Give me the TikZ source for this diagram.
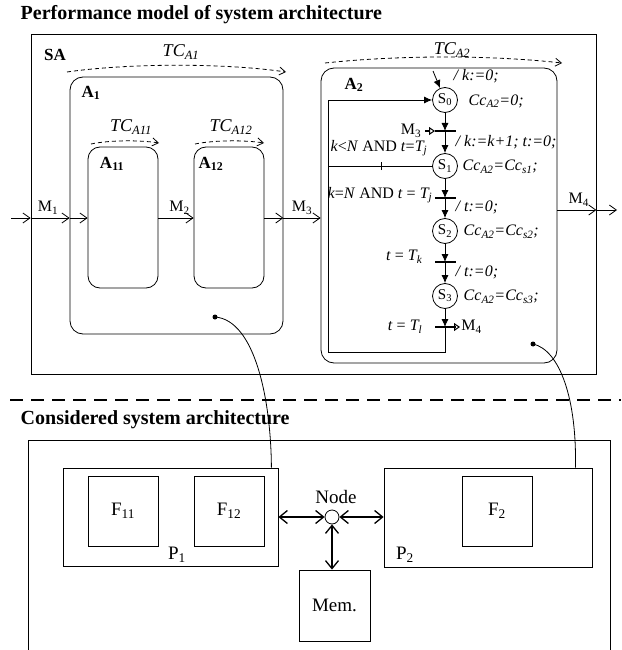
\documentclass[tikz,border=0pt]{standalone}
\usepackage{fontspec}
\setmainfont{Liberation Serif}
\usetikzlibrary{arrows.meta}

\tikzset{
  box/.style={draw, inner sep=0pt},
  blk/.style={draw, rounded corners=13pt, inner sep=0pt},
  st/.style={draw, circle, minimum size=25pt, inner sep=0pt, font=\fontsize{15}{16}\selectfont},
  msg/.style={-{Straight Barb[length=7pt,width=10pt]}},
  tc/.style={dashed, dash pattern=on 4pt off 3pt, -{Straight Barb[length=6pt,width=8pt]}},
  tr/.style={-{Latex[length=8pt,width=7pt]}},
  bar/.style={line width=1.5pt},
  io/.style={line width=1pt, -{Triangle[open,length=6pt,width=8pt]}},
  bus/.style={line width=1.3pt, {Straight Barb[length=8pt,width=13pt]}-{Straight Barb[length=8pt,width=13pt]}},
  ttl/.style={anchor=west, font=\bfseries\fontsize{20}{22}\selectfont},
}

\begin{document}
\begin{tikzpicture}[x=1pt,y=-1pt,line width=0.8pt,
  every node/.style={font=\fontsize{16}{18}\selectfont}]
\useasboundingbox (0,0) rectangle (621,650);

\node[ttl] (ttl1) at (17,15) {Performance model of system architecture};
\node[ttl] (ttl2) at (17,420) {Considered system architecture};

\node[box, minimum width=565pt, minimum height=340pt] (sa) at (313.5,204) {};
\node[blk, minimum width=213pt, minimum height=257pt] (a1) at (176.5,205.5) {};
\node[blk, rounded corners=12pt, minimum width=70pt, minimum height=141pt] (a11) at (123,217.5) {};
\node[blk, rounded corners=12pt, minimum width=70pt, minimum height=141pt] (a12) at (229,217.5) {};
\node[blk, minimum width=236pt, minimum height=295pt] (a2) at (439,215.5) {};

\node[font=\bfseries\fontsize{17}{18}\selectfont] (lsa) at (55,55) {SA};
\node[font=\bfseries\fontsize{17}{18}\selectfont] (la1) at (91,93) {A\textsubscript{1}};
\node[font=\bfseries\fontsize{17}{18}\selectfont] (la11) at (112,164) {A\textsubscript{11}};
\node[font=\bfseries\fontsize{17}{18}\selectfont] (la12) at (211,164) {A\textsubscript{12}};
\node[font=\bfseries\fontsize{17}{18}\selectfont] (la2) at (354,85) {A\textsubscript{2}};

\node[font=\itshape\fontsize{18}{18}\selectfont] (ltc1) at (181,52) {TC\textsubscript{A1}};
\node[font=\itshape\fontsize{18}{18}\selectfont] (ltc11) at (131,127) {TC\textsubscript{A11}};
\node[font=\itshape\fontsize{18}{18}\selectfont] (ltc12) at (231,127) {TC\textsubscript{A12}};
\node[font=\itshape\fontsize{18}{18}\selectfont] (ltc2) at (452,50) {TC\textsubscript{A2}};
\draw[tc] (67,72) .. controls (130,63) and (225,63) .. (286,72);
\draw[tc] (91,144) .. controls (110,140) and (140,140) .. (159,143);
\draw[tc] (195,144) .. controls (215,140) and (245,140) .. (264,143);
\draw[tc] (325,63) .. controls (400,55) and (490,55) .. (562,63);

\coordinate (in) at (11,218);
\draw[msg] (in) -- (in -| sa.west);
\draw[msg] (in -| sa.west) -- node[above, pos=0.45] {M\textsubscript{1}} (in -| a1.west);
\draw[msg] (in -| a1.west) -- (in -| a11.west);
\draw[msg] (in -| a11.east) -- node[above, pos=0.6] {M\textsubscript{2}} (in -| a12.west);
\draw[msg] (in -| a12.east) -- (in -| a1.east);
\draw[msg] (in -| a1.east) -- node[above, pos=0.5] {M\textsubscript{3}} (in -| a2.west);
\coordinate (out) at (617,210);
\draw[msg] (out -| a2.east) -- node[above, pos=0.55] {M\textsubscript{4}} (out -| sa.east);
\draw[msg] (out -| sa.east) -- (out);

\node[st] (s0) at (445,100) {S\textsubscript{0}};
\node[st] (s1) at (445,166) {S\textsubscript{1}};
\node[st] (s2) at (445,231) {S\textsubscript{2}};
\node[st] (s3) at (445,296) {S\textsubscript{3}};
\coordinate (t0) at (445,131);
\coordinate (t1) at (445,198);
\coordinate (t2) at (445,262);
\coordinate (t3) at (445,327);
\coordinate (init) at (433,71);
\coordinate (lp) at (328,352);
\coordinate (tk) at (381,166);
\coordinate (m3in) at (425,131);
\coordinate (m4out) at (460,327);

\draw[tr] (init) -- (s0);
\draw[tr] (s0) -- (t0);
\draw[tr] (t0) -- (s1);
\draw[tr] (s1) -- (t1);
\draw[tr] (t1) -- (s2);
\draw[tr] (s2) -- (t2);
\draw[tr] (t2) -- (s3);
\draw[tr] (s3) -- (t3);
\draw[tr] (t3) |- (lp) |- (s0);
\draw (s1) -- (s1 -| lp);
\draw ([yshift=-4pt]tk) -- ([yshift=4pt]tk);
\foreach \t in {t0,t1,t2,t3}
  \draw[bar] ([xshift=-10pt]\t) -- ([xshift=11pt]\t);
\draw[io] (m3in) -- ([xshift=-10pt]t0);
\draw[io] (t3) -- (m4out);
\node[anchor=east] (lm3) at (m3in) {M\textsubscript{3}};
\node[anchor=west, inner sep=1pt] (lm4) at (m4out) {M\textsubscript{4}};

\node[anchor=west] (ek0) at (450,76) {\textit{/ k:=0;}};
\node[anchor=west] (cc0) at (465,101) {\textit{Cc\textsubscript{A2}=0;}};
\node[anchor=west] (ek1) at (452,142) {\textit{/ k:=k+1; t:=0;}};
\node[anchor=west] (cc1) at (459,167) {\textit{Cc\textsubscript{A2}=Cc\textsubscript{s1};}};
\node[anchor=east] (g1) at (431,148) {\textit{k}<\textit{N} AND \textit{t}=\textit{T\textsubscript{j}}};
\node[anchor=east] (g2) at (436,195) {\textit{k}=\textit{N} AND \textit{t} = \textit{T\textsubscript{j}}};
\node[anchor=west] (et1) at (452,207) {\textit{/ t:=0;}};
\node[anchor=west] (cc2) at (460,232) {\textit{Cc\textsubscript{A2}=Cc\textsubscript{s2};}};
\node[anchor=east] (g3) at (426,257) {\textit{t} = \textit{T\textsubscript{k}}};
\node[anchor=west] (et2) at (452,272) {\textit{/ t:=0;}};
\node[anchor=west] (cc3) at (460,297) {\textit{Cc\textsubscript{A2}=Cc\textsubscript{s3};}};
\node[anchor=east] (g4) at (426,327) {\textit{t} = \textit{T\textsubscript{l}}};

\draw[dash pattern=on 13pt off 8pt, line width=1.6pt] (10,400) -- (621,400);

\draw (28,650) -- (28,440) -- (610,440) -- (610,650);
\node[box, minimum width=215pt, minimum height=98pt] (p1) at (170.5,517) {};
\node[box, minimum width=70pt, minimum height=70pt, font=\fontsize{19}{20}\selectfont] (f11) at (123,511) {F\textsubscript{11}};
\node[box, minimum width=70pt, minimum height=70pt, font=\fontsize{19}{20}\selectfont] (f12) at (229,511) {F\textsubscript{12}};
\node[box, minimum width=208pt, minimum height=99pt] (p2) at (488,517.5) {};
\node[box, minimum width=70pt, minimum height=70pt, font=\fontsize{19}{20}\selectfont] (f2) at (497,511) {F\textsubscript{2}};
\node[box, minimum width=71pt, minimum height=71pt, font=\fontsize{19}{20}\selectfont] (mem) at (334.5,605.5) {Mem.};
\node[draw, circle, minimum size=14pt, inner sep=0pt, fill=white] (nd) at (332,517) {};
\node[font=\fontsize{19}{20}\selectfont] (lnd) at (336,497) {Node};
\node[font=\fontsize{19}{20}\selectfont] (lp1) at (177,555) {P\textsubscript{1}};
\node[font=\fontsize{19}{20}\selectfont] (lp2) at (405,555) {P\textsubscript{2}};

\draw[bus] (p1) -- (nd);
\draw[bus] (nd) -- (p2.west |- nd);
\draw[bus] (nd) -- (nd |- mem.north);

\fill (215,317) circle (2.5pt) coordinate (d1);
\fill (533,344) circle (2.5pt) coordinate (d2);
\draw (d1) .. controls (255,320) and (271,400) .. ([xshift=-7pt]p1.north east);
\draw (d2) .. controls (560,350) and (577,400) .. ([xshift=-17pt]p2.north east);
\end{tikzpicture}
\end{document}
